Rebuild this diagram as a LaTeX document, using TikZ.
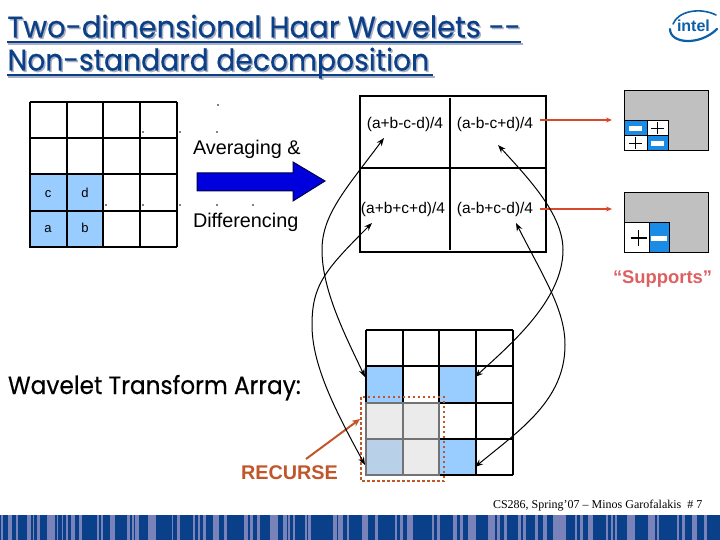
\documentclass[tikz,border=0pt]{standalone}
\usepackage{fontspec}
\usetikzlibrary{arrows.meta}
\setmainfont{Liberation Sans}
\newfontfamily\comicf[FakeBold=0.4]{Poppins}
\newfontfamily\serf{Liberation Serif}
\definecolor{titleblue}{HTML}{0B3F86}
\definecolor{titleshadow}{HTML}{A9AFC4}
\definecolor{cellblue}{HTML}{99CCFF}
\definecolor{supblue}{HTML}{1A8CE6}
\definecolor{supgray}{HTML}{C0C0C0}
\definecolor{bignavy}{HTML}{0000DD}
\definecolor{rustc}{HTML}{C0562A}
\definecolor{redarrow}{HTML}{D8482A}
\definecolor{suptext}{HTML}{DE5F60}
\definecolor{barbase}{HTML}{0A3F8A}
\definecolor{barlight}{HTML}{7A82BA}
\definecolor{intelblue}{HTML}{0A5FA8}
\definecolor{paleblue}{HTML}{B8D0E8}
\tikzset{
  txt/.style={inner sep=0pt,outer sep=0pt,anchor=base west},
  ctr/.style={inner sep=0pt,outer sep=0pt,anchor=base},
  gridln/.style={line width=1.1pt,black},
  thickln/.style={line width=2pt,black},
  curve/.style={line width=1pt,black,{Stealth[length=8pt,width=6pt]}-{Stealth[length=8pt,width=6pt]}},
  redarr/.style={line width=1.4pt,redarrow,-{Stealth[length=6pt,width=5pt]}},
  supbox/.style={fill=supgray,draw=black,line width=0.8pt},
  bluecell/.style={fill=supblue,draw=black,line width=0.6pt},
  whitecell/.style={fill=white,draw=black,line width=0.6pt},
  minusbar/.style={fill=white,draw=none},
  speck/.style={fill=black,draw=none},
}
\begin{document}
\begin{tikzpicture}[x=1pt,y=-1pt]
\useasboundingbox (0,0) rectangle (720,540);
% title
\def\tone{Two-dimensional Haar Wavelets -{}-}
\def\ttwo{Non-standard decomposition}
\fill[titleshadow] (8,43) rectangle (523,45);
\fill[titleshadow] (8,76) rectangle (435,78);
\node[txt,text=titleshadow] (t1s) at (9,39) {\comicf\fontsize{30}{30}\selectfont\scalebox{0.97}[1]{\tone}};
\node[txt,text=titleshadow] (t2s) at (9,72) {\comicf\fontsize{30}{30}\selectfont\scalebox{0.94}[1]{\ttwo}};
\node[txt,text=titleblue] (t1) at (7.5,37.5) {\comicf\fontsize{30}{30}\selectfont\scalebox{0.97}[1]{\tone}};
\node[txt,text=titleblue] (t2) at (7.5,70.5) {\comicf\fontsize{30}{30}\selectfont\scalebox{0.94}[1]{\ttwo}};
\fill[titleblue] (7,41) rectangle (521,43);
\fill[titleblue] (7,74) rectangle (433,76);
% logo
\draw[intelblue,line width=1.6pt,line cap=round] (673,24) .. controls (678,11) and (700,7) .. (716,15);
\draw[intelblue,line width=2.2pt,line cap=round] (670,29) .. controls (670,44) and (700,46) .. (717,29);
\node[txt,text=intelblue] (intel) at (677,32) {\fontsize{16}{16}\selectfont\bfseries intel};
% left grid
\fill[cellblue] (30,174) rectangle (103,247);
\foreach \xx in {30,67,103,140,177} \draw[gridln] (\xx,102) -- (\xx,247);
\foreach \yy in {102,138,174,211,247} \draw[gridln] (30,\yy) -- (177,\yy);
\draw[thickln] (30,174) rectangle (103,247);
\draw[thickln] (67,174) -- (67,247);
\draw[thickln] (30,102) -- (177,102);
\node[ctr] (c) at (48,197) {\fontsize{13}{13}\selectfont c};
\node[ctr] (d) at (85,197) {\fontsize{13}{13}\selectfont d};
\node[ctr] (a) at (48,233) {\fontsize{13}{13}\selectfont a};
\node[ctr] (b) at (85,233) {\fontsize{13}{13}\selectfont b};
\foreach \p in {(143,132),(180,132),(217,132),(218,105),(106,205),(143,205),(180,205),(217,205),(253,205)}
  \fill[speck] \p circle (0.8);
% big arrow
\node[txt] (avg) at (193,155) {\fontsize{19.8}{20}\selectfont Averaging \&};
\node[txt] (dif) at (193,227) {\fontsize{19.8}{20}\selectfont Differencing};
\draw[fill=bignavy,draw=black!70!blue,line width=1pt] (197,173) -- (293,173) -- (293,162) -- (325,181) -- (293,201) -- (293,191) -- (197,191) -- cycle;
% transform box
\draw[line width=1.8pt] (360,96) rectangle (546,252);
\draw[line width=1.6pt] (450,98) -- (450,250);
\draw[line width=1.6pt] (360,168) -- (546,168);
\node[ctr] (tl) at (405,129) {\fontsize{15.5}{16}\selectfont (a+b-c-d)/4};
\node[ctr] (tr) at (495,129) {\fontsize{15.5}{16}\selectfont (a-b-c+d)/4};
\node[ctr] (bl) at (403,214) {\fontsize{15.5}{16}\selectfont (a+b+c+d)/4};
\node[ctr] (br) at (495,214) {\fontsize{15.5}{16}\selectfont (a-b+c-d)/4};
% supports
\draw[supbox] (624,90) rectangle (708,150);
\draw[bluecell] (624,120) rectangle (647,135);
\draw[whitecell] (647,120) rectangle (668,135);
\draw[whitecell] (624,135) rectangle (647,150);
\draw[bluecell] (647,135) rectangle (668,150);
\fill[minusbar] (629,126) rectangle (642,131);
\fill[minusbar] (651,141) rectangle (664,146);
\draw[line width=0.8pt] (651,128) -- (664,128) (657.5,122) -- (657.5,134);
\draw[line width=0.8pt] (629,143) -- (642,143) (635.5,137) -- (635.5,149);
\draw[supbox] (624,192) rectangle (708,252);
\draw[whitecell] (624,222) rectangle (649,252);
\draw[bluecell] (649,222) rectangle (669,252);
\draw[line width=1.6pt] (631,238) -- (647,238) (638.5,230) -- (638.5,246);
\fill[minusbar] (651,236) rectangle (667,241);
\coordinate (r1s) at (540,120); \coordinate (r1e) at (612,120);
\coordinate (r2s) at (540,209); \coordinate (r2e) at (612,209);
\draw[redarr] (r1s) -- (r1e);
\draw[redarr] (r2s) -- (r2e);
\node[txt,text=suptext] (sup) at (613,283) {\fontsize{18.4}{18}\selectfont\bfseries “Supports”};
% wavelet array
\node[txt] (wta) at (8,394) {\comicf\fontsize{25}{25}\selectfont\scalebox{0.93}[1]{Wavelet Transform Array:}};
\fill[cellblue] (366,366) rectangle (403,403);
\fill[cellblue] (439,366) rectangle (476,403);
\fill[cellblue] (439,439) rectangle (476,475);
\foreach \xx in {366,403,439,476,513} \draw[gridln] (\xx,330) -- (\xx,475);
\foreach \yy in {330,366,403,439,475} \draw[gridln] (366,\yy) -- (513,\yy);
\draw[thickln] (366,330) -- (366,403);
\draw[thickln] (403,330) -- (403,403);
\draw[thickln] (439,330) -- (439,403);
\draw[line width=2.5pt] (476,330) -- (476,475);
\draw[thickln] (366,330) -- (476,330);
\draw[thickln] (439,475) -- (490,475);
\fill[black!8] (366,403) rectangle (439,475);
\fill[paleblue] (366,439) rectangle (403,475);
\draw[line width=1.3pt,black!55] (366,403) rectangle (439,475);
\draw[line width=1.3pt,black!55] (403,403) -- (403,475);
\draw[line width=1.3pt,black!55] (366,439) -- (439,439);
\draw[rustc,line width=2.5pt,dash pattern=on 2.5pt off 2.5pt] (361,397) rectangle (444,481);
\coordinate (rc) at (306,459); \coordinate (rt) at (360,419);
\draw[rustc,line width=2pt,-{Stealth[length=8pt,width=7pt]}] (rc) -- (rt);
\node[txt,text=rustc] (rec) at (241,479) {\fontsize{19.8}{20}\selectfont\bfseries RECURSE};
% curved arrows
\coordinate (c1s) at (365,377); \coordinate (c1m) at (322,250); \coordinate (c1e) at (384,138);
\coordinate (c2s) at (365,465); \coordinate (c2m) at (312,325); \coordinate (c2e) at (372,223);
\coordinate (c3s) at (475,377); \coordinate (c3m) at (563,250); \coordinate (c3e) at (498,145);
\coordinate (c4s) at (475,467); \coordinate (c4m) at (565,345); \coordinate (c4e) at (516,223);
\draw[curve] (c1e) .. controls (345,190) and (322,215) .. (c1m) .. controls (322,290) and (345,335) .. (c1s);
\draw[curve] (c2e) .. controls (325,270) and (312,285) .. (c2m) .. controls (312,365) and (335,410) .. (c2s);
\draw[curve] (c3e) .. controls (530,180) and (563,215) .. (c3m) .. controls (563,300) and (510,345) .. (c3s);
\draw[curve] (c4e) .. controls (545,280) and (565,310) .. (c4m) .. controls (565,400) and (520,430) .. (c4s);
% footer
\node[txt] (foot) at (493,508) {\serf\fontsize{12}{12}\selectfont CS286, Spring’07 – Minos Garofalakis\ \ \# 7};
% barcode
\fill[barbase] (0,515) rectangle (720,540);
\foreach \a/\b in {3/10,24/35,48/55,80/92,98/103,112/120,140/165,170/175,185/190,197/204,212/224,236/245,290/296,303/308,330/345,380/390,395/402,405/418,445/468,515/520,530/540,580/585,595/600,610/618,640/658,672/680}
  \fill[barlight] ({\a/3},515) rectangle ({\b/3},540);
\foreach \a/\b in {12/25,30/38,50/60,90/115,130/140,145/150,160/165,195/200,205/213,280/290,295/310,320/328,365/385,405/415,465/472,480/490,500/520,575/582,590/600,640/650,660/670,685/708}
  \fill[barlight] ({240+\a/3},515) rectangle ({240+\b/3},540);
\foreach \a/\b in {25/45,52/60,72/82,115/122,130/138,165/175,190/200,218/258,285/292,300/308,325/340,378/385,392/400,405/412,440/465,505/525,530/538,590/598,605/615,635/650,672/680}
  \fill[barlight] ({480+\a/3},515) rectangle ({480+\b/3},540);
\end{tikzpicture}
\end{document}
